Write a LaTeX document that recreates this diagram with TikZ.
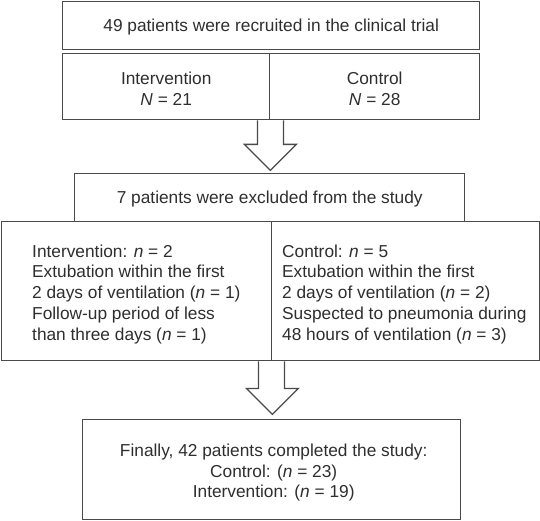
\documentclass[tikz,border=0pt]{standalone}
\usepackage{fontspec}
\setmainfont{Liberation Sans}
\usetikzlibrary{calc}
\definecolor{linec}{HTML}{4A4A4A}
\definecolor{textc}{HTML}{2E2E2E}
\begin{document}
\begin{tikzpicture}[x=1pt,y=-1pt,
  box/.style={draw=linec,line width=1.4pt,rectangle,inner sep=0pt,anchor=north west},
  txt/.style={text=textc,font=\fontsize{17.3}{20.7}\selectfont,inner sep=0pt},
  fat/.style={draw=linec,line width=1.3pt,fill=white,line join=miter}]
\useasboundingbox (0,0) rectangle (540,521);
% boxes
\node[box,minimum width=417pt,minimum height=48pt] (b1) at (62,1) {};
\node[box,minimum width=207pt,minimum height=66pt] (b2l) at (62,53) {};
\node[box,minimum width=210pt,minimum height=66pt] (b2r) at (269,53) {};
\node[box,minimum width=390pt,minimum height=48pt] (b3) at (74,173) {};
\node[box,minimum width=270pt,minimum height=139pt] (b4l) at (1,221) {};
\node[box,minimum width=268pt,minimum height=139pt] (b4r) at (271,221) {};
\node[box,minimum width=378pt,minimum height=100pt] (b5) at (82,419) {};
% texts
\node[txt] (t1) at ($(b1.center)+(0,1)$) {49 patients were recruited in the clinical trial};
\node[txt,align=center] (t2l) at ($(b2l.center)+(0,2)$) {Intervention\\\textit{N} = 21};
\node[txt,align=center] (t2r) at ($(b2r.center)+(0,2)$) {Control\\\textit{N} = 28};
\node[txt] (t3) at ($(b3.center)+(0,1)$) {7 patients were excluded from the study};
\node[txt,align=left,anchor=west] (t4l) at ($(b4l.west)+(31,3)$) {Intervention: \textit{n} = 2\\Extubation within the first\\2 days of ventilation (\textit{n} = 1)\\Follow-up period of less\\than three days (\textit{n} = 1)};
\node[txt,align=left,anchor=west] (t4r) at ($(b4r.west)+(11,3)$) {Control: \textit{n} = 5\\Extubation within the first\\2 days of ventilation (\textit{n} = 2)\\Suspected to pneumonia during\\48 hours of ventilation (\textit{n} = 3)};
\node[txt,align=center] (t5) at ($(b5.center)+(2,3)$) {Finally, 42 patients completed the study:\\Control: (\textit{n} = 23)\\Intervention: (\textit{n} = 19)};
% fat arrows
\coordinate (a1) at (b2l.south east);
\draw[fat] ($(a1)+(-13,0)$) -- ++(0,24) -- ++(-13,0) -- ($(a1)+(0,50)$) -- ++(26,-26) -- ++(-13,0) -- ($(a1)+(13,0)$);
\coordinate (a2) at (b4l.south east);
\draw[fat] ($(a2)+(-14,0)$) -- ++(0,27) -- ++(-12,0) -- ($(a2)+(0,53)$) -- ++(26,-26) -- ++(-14,0) -- ($(a2)+(12,0)$);
\end{tikzpicture}
\end{document}
